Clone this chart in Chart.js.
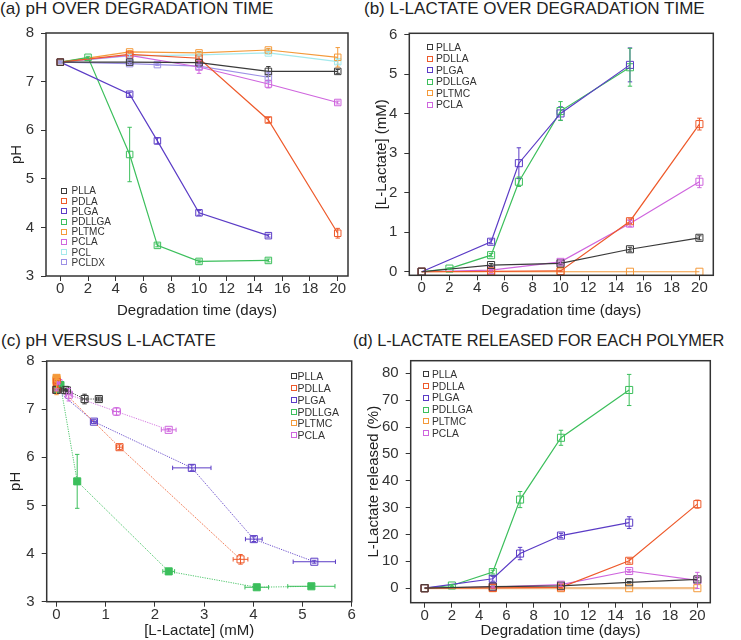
<!DOCTYPE html>
<html>
<head>
<meta charset="utf-8">
<script src="https://cdn.jsdelivr.net/npm/chart.js@4.4.0/dist/chart.umd.min.js"></script>
<style>
  body { margin: 0; background: #fff; width: 741px; height: 640px; position: relative; overflow: hidden;
         font-family: 'Liberation Sans', Arial, sans-serif; color: #222; }
  canvas { position: absolute; }
  .ptitle { position: absolute; font-size: 17px; line-height: 19px; white-space: nowrap; }
  .legend { position: absolute; color: #333; white-space: nowrap; }
  .legend .row { display: flex; align-items: center; }
  .legend .box { display: inline-block; box-sizing: border-box; border: 1px solid; }
</style>
</head>
<body>
<div class="ptitle" style="left:0px;top:-1px">(a) pH OVER DEGRADATION TIME</div>
<div class="ptitle" style="left:364px;top:-1px">(b) L-LACTATE OVER DEGRADATION TIME</div>
<div class="ptitle" style="left:1px;top:331px">(c) pH VERSUS L-LACTATE</div>
<div class="ptitle" style="left:353px;top:331px;font-size:16.4px;letter-spacing:-0.1px">(d) L-LACTATE RELEASED FOR EACH POLYMER</div>

<canvas id="chart-a" width="370" height="320" style="left:0;top:0"></canvas>
<canvas id="chart-b" width="371" height="320" style="left:370px;top:0"></canvas>
<canvas id="chart-c" width="362" height="320" style="left:0;top:320px"></canvas>
<canvas id="chart-d" width="379" height="320" style="left:362px;top:320px"></canvas>

<div id="legend-a" class="legend"></div>
<div id="legend-b" class="legend"></div>
<div id="legend-c" class="legend"></div>
<div id="legend-d" class="legend"></div>

<script>
// ---- sampling days ----
const daysStd = [0, 5, 10, 15, 20];
const daysPLGA = [0, 5, 7, 10, 15];
const daysPDLLGA = [0, 2, 5, 7, 10, 15];
const daysPCLDX = [0, 5, 7, 10, 15];

// ---- (a) pH over degradation time ----
const phPLLA = [7.40, 7.40, 7.39, 7.21, 7.21];
const phErrPLLA = [0.02, 0.02, 0.03, 0.10, 0.04];
const phPDLA = [7.40, 7.56, 7.48, 6.21, 3.88];
const phErrPDLA = [0.02, 0.03, 0.05, 0.05, 0.10];
const phPLGA = [7.40, 6.74, 5.78, 4.30, 3.83];
const phErrPLGA = [0.02, 0.04, 0.06, 0.05, 0.03];
const phPDLLGA = [7.40, 7.50, 5.50, 3.63, 3.30, 3.32];
const phErrPDLLGA = [0.02, 0.02, 0.56, 0.03, 0.03, 0.03];
const phPLTMC = [7.40, 7.61, 7.59, 7.65, 7.50];
const phErrPLTMC = [0.02, 0.03, 0.03, 0.03, 0.20];
const phPCLA = [7.40, 7.54, 7.30, 6.95, 6.57];
const phErrPCLA = [0.02, 0.02, 0.13, 0.08, 0.03];
const phPCL = [7.40, 7.53, 7.55, 7.59, 7.41];
const phErrPCL = [0.02, 0.03, 0.02, 0.03, 0.05];
const phPCLDX = [7.40, 7.37, 7.35, 7.32, 7.09];
const phErrPCLDX = [0.02, 0.02, 0.02, 0.03, 0.10];

// ---- (b) L-lactate (mM) ----
const lacPLLA = [0, 0.17, 0.21, 0.57, 0.86];
const lacErrPLLA = [0, 0.04, 0.03, 0.05, 0.05];
const lacPDLLA = [0, 0.01, 0.02, 1.28, 3.74];
const lacErrPDLLA = [0, 0.02, 0.02, 0.06, 0.15];
const lacPLGA = [0, 0.76, 2.75, 4.01, 5.24];
const lacErrPLGA = [0, 0.05, 0.39, 0.17, 0.43];
const lacPDLLGA = [0, 0.08, 0.42, 2.28, 4.07, 5.18];
const lacErrPDLLGA = [0, 0.02, 0.04, 0.12, 0.24, 0.48];
const lacPLTMC = [0, 0, 0, 0, 0];
const lacErrPLTMC = [0, 0, 0, 0, 0];
const lacPCLA = [0, 0.04, 0.25, 1.22, 2.28];
const lacErrPCLA = [0, 0.02, 0.05, 0.08, 0.15];

// ---- (d) L-lactate released (%) ----
const relPLLA = [0, 0.6, 0.9, 2.2, 3.3];
const relErrPLLA = [0, 0.2, 0.2, 0.3, 0.6];
const relPDLLA = [0, 0.1, 0.3, 10.2, 31.3];
const relErrPDLLA = [0, 0.2, 0.3, 0.8, 1.5];
const relPLGA = [0, 3.5, 12.9, 19.6, 24.4];
const relErrPLGA = [0, 0.9, 2.3, 0.8, 2.2];
const relPDLLGA = [0, 1.0, 6.0, 33.0, 56.0, 73.8];
const relErrPDLLGA = [0, 0.4, 0.7, 3.0, 2.8, 5.8];
const relPLTMC = [0, 0, 0, 0, 0];
const relPCLA = [0, 0.4, 1.3, 6.4, 2.9];
const relErrPCLA = [0, 0.3, 0.6, 0.6, 3.0];

// ---- ticks ----
const dayTicks = [0, 2, 4, 6, 8, 10, 12, 14, 16, 18, 20];
const phTicks = [3, 4, 5, 6, 7, 8];
const lacTicks = [0, 1, 2, 3, 4, 5, 6];
const relTicks = [0, 10, 20, 30, 40, 50, 60, 70, 80];

const FONT = "'Liberation Sans', Arial, sans-serif";
const COL = {
  PLLA: '#3a3a3a', PDLA: '#ee5a2b', PLGA: '#5b3cc6', PDLLGA: '#3cbf5c',
  PLTMC: '#f49a3a', PCLA: '#cf66de', PCL: '#a4e9ec', PCLDX: '#9d90e6'
};

const zip = (xs, ys) => xs.map((x, i) => ({ x, y: ys[i] }));

function series(label, color, xs, ys, errY, extra = {}) {
  return Object.assign({
    label, data: zip(xs, ys), errY, borderColor: color, backgroundColor: 'rgba(255,255,255,0)',
    showLine: true, borderWidth: 1.2, pointStyle: 'rect', pointRadius: 5, pointBorderWidth: 1,
    pointHoverRadius: 5,
  }, extra);
}

// error bars drawn through the chart scales
const errorBars = {
  id: 'errorBars',
  afterDatasetsDraw(chart) {
    const { ctx, scales: { x, y } } = chart;
    chart.data.datasets.forEach(ds => {
      ctx.save();
      ctx.strokeStyle = ds.borderColor;
      ctx.lineWidth = 1;
      ds.data.forEach((p, j) => {
        const px = x.getPixelForValue(p.x), py = y.getPixelForValue(p.y);
        const ey = ds.errY ? ds.errY[j] : 0;
        const ex = ds.errX ? ds.errX[j] : 0;
        const cap = 2.2;
        ctx.beginPath();
        if (ey) {
          const y1 = y.getPixelForValue(p.y - ey), y2 = y.getPixelForValue(p.y + ey);
          ctx.moveTo(px, y1); ctx.lineTo(px, y2);
          ctx.moveTo(px - cap, y1); ctx.lineTo(px + cap, y1);
          ctx.moveTo(px - cap, y2); ctx.lineTo(px + cap, y2);
        }
        if (ex) {
          const x1 = x.getPixelForValue(p.x - ex), x2 = x.getPixelForValue(p.x + ex);
          ctx.moveTo(x1, py); ctx.lineTo(x2, py);
          ctx.moveTo(x1, py - cap); ctx.lineTo(x1, py + cap);
          ctx.moveTo(x2, py - cap); ctx.lineTo(x2, py + cap);
        }
        ctx.stroke();
      });
      ctx.restore();
    });
  }
};

// box round the plot area
const frame = {
  id: 'frame',
  afterDraw(chart) {
    const { ctx, chartArea: a } = chart;
    ctx.save();
    ctx.strokeStyle = '#333';
    ctx.lineWidth = 1.5;
    ctx.strokeRect(a.left, a.top, a.right - a.left, a.bottom - a.top);
    ctx.restore();
  }
};

function axis(min, max, ticks, title, size, isX, titlePad, tickPad) {
  return {
    type: 'linear', min, max,
    afterBuildTicks: s => { s.ticks = ticks.map(v => ({ value: v })); },
    afterFit: s => { if (isX) s.height = size; else s.width = size; },
    ticks: { color: '#333', font: { size: 15, family: FONT }, padding: tickPad, maxRotation: 0, autoSkip: false },
    grid: { drawOnChartArea: false, tickLength: 5, color: '#333' },
    border: { display: false },
    title: { display: true, text: title, color: '#222', font: { size: 15, family: FONT },
             padding: isX ? { top: 0, bottom: titlePad } : { top: titlePad, bottom: 0 } },
  };
}

function makeChart(id, datasets, o) {
  return new Chart(document.getElementById(id), {
    type: 'scatter',
    data: { datasets },
    plugins: [errorBars, frame],
    options: {
      responsive: false,
      animation: false,
      layout: { padding: o.pad },
      plugins: { legend: { display: false }, tooltip: { enabled: false } },
      scales: {
        x: axis(o.xMin, o.xMax, o.xTicks, o.xTitle, o.xH, true, 0, -1),
        y: axis(o.yMin, o.yMax, o.yTicks, o.yTitle, o.yW, false, o.yTitlePad, 7),
      },
    },
  });
}

function makeLegend(id, items, o) {
  const el = document.getElementById(id);
  el.style.left = o.left + 'px';
  el.style.top = (o.top - o.rowH / 2) + 'px';
  el.style.fontSize = o.font + 'px';
  items.forEach(([label, color]) => {
    const row = document.createElement('div');
    row.className = 'row';
    row.style.height = o.rowH + 'px';
    const box = document.createElement('span');
    box.className = 'box';
    box.style.width = o.box + 'px';
    box.style.height = o.box + 'px';
    box.style.borderColor = color;
    box.style.marginRight = o.gap + 'px';
    const txt = document.createElement('span');
    txt.textContent = label;
    row.appendChild(box); row.appendChild(txt);
    el.appendChild(row);
  });
}

// ---- (a) ----
const dsA = [
  series('PLLA', COL.PLLA, daysStd, phPLLA, phErrPLLA),
  series('PDLA', COL.PDLA, daysStd, phPDLA, phErrPDLA),
  series('PLGA', COL.PLGA, daysPLGA, phPLGA, phErrPLGA),
  series('PDLLGA', COL.PDLLGA, daysPDLLGA, phPDLLGA, phErrPDLLGA),
  series('PLTMC', COL.PLTMC, daysStd, phPLTMC, phErrPLTMC),
  series('PCLA', COL.PCLA, daysStd, phPCLA, phErrPCLA),
  series('PCL', COL.PCL, daysStd, phPCL, phErrPCL),
  series('PCLDX', COL.PCLDX, daysPCLDX, phPCLDX, phErrPCLDX),
];
dsA.forEach(d => { d.pointRadius = 4.6; d.pointHoverRadius = 4.6; });
makeChart('chart-a', dsA, {
  xMin: -1.03, xMax: 20.74, xTicks: dayTicks, xTitle: 'Degradation time (days)', xH: 44,
  yMin: 3, yMax: 8, yTicks: phTicks, yTitle: 'pH', yW: 46, yTitlePad: 8,
  pad: { top: 33, right: 22, bottom: 0, left: 0 },
});

// ---- (b) ----
const dsB = [
  series('PLLA', COL.PLLA, daysStd, lacPLLA, lacErrPLLA),
  series('PDLLA', COL.PDLA, daysStd, lacPDLLA, lacErrPDLLA),
  series('PLGA', COL.PLGA, daysPLGA, lacPLGA, lacErrPLGA),
  series('PDLLGA', COL.PDLLGA, daysPDLLGA, lacPDLLGA, lacErrPDLLGA),
  series('PLTMC', COL.PLTMC, daysStd, lacPLTMC, lacErrPLTMC),
  series('PCLA', COL.PCLA, daysStd, lacPCLA, lacErrPCLA),
];
makeChart('chart-b', dsB, {
  xMin: -0.89, xMax: 21.0, xTicks: dayTicks, xTitle: 'Degradation time (days)', xH: 44.7,
  yMin: -0.09, yMax: 6.04, yTicks: lacTicks, yTitle: '[L-Lactate] (mM)', yW: 39.3, yTitlePad: 3,
  pad: { top: 33.3, right: 27.7, bottom: 0, left: 0 },
});

// ---- (c) pH versus L-lactate, paired from (a) and (b) ----
function pair(label, color, lac, lacErr, ph, phErr, filled) {
  return {
    label, data: zip(lac, ph), errX: lacErr, errY: phErr, borderColor: color,
    backgroundColor: filled ? color : 'rgba(255,255,255,0)',
    showLine: true, borderWidth: 0.9, borderDash: [1.2, 1.2], pointStyle: 'rect',
    pointRadius: 5, pointHoverRadius: 5, pointBorderWidth: 1, pointBorderDash: [],
  };
}
const dsC = [
  pair('PLLA', COL.PLLA, lacPLLA, lacErrPLLA, phPLLA, phErrPLLA),
  pair('PDLLA', COL.PDLA, lacPDLLA, lacErrPDLLA, phPDLA, phErrPDLA),
  pair('PLGA', COL.PLGA, lacPLGA, lacErrPLGA, phPLGA, phErrPLGA),
  pair('PDLLGA', COL.PDLLGA, lacPDLLGA, lacErrPDLLGA, phPDLLGA, phErrPDLLGA, true),
  pair('PLTMC', COL.PLTMC, lacPLTMC, lacErrPLTMC, phPLTMC, phErrPLTMC, true),
  pair('PCLA', COL.PCLA, lacPCLA, lacErrPCLA, phPCLA, phErrPCLA),
];
makeChart('chart-c', dsC, {
  xMin: -0.2, xMax: 6, xTicks: lacTicks, xTitle: '[L-Lactate] (mM)', xH: 38.3,
  yMin: 3, yMax: 8, yTicks: phTicks, yTitle: 'pH', yW: 46.7, yTitlePad: 7,
  pad: { top: 41, right: 10.3, bottom: 0, left: 0 },
});

// ---- (d) ----
const dsD = [
  series('PLLA', COL.PLLA, daysStd, relPLLA, relErrPLLA),
  series('PDLLA', COL.PDLA, daysStd, relPDLLA, relErrPDLLA),
  series('PLGA', COL.PLGA, daysPLGA, relPLGA, relErrPLGA),
  series('PDLLGA', COL.PDLLGA, daysPDLLGA, relPDLLGA, relErrPDLLGA),
  series('PLTMC', COL.PLTMC, daysStd, relPLTMC, null, { borderColor: '#f2bf8a', borderWidth: 2.2, pointBorderColor: COL.PLTMC }),
  series('PCLA', COL.PCLA, daysStd, relPCLA, relErrPCLA),
];
makeChart('chart-d', dsD, {
  xMin: -1.02, xMax: 20.95, xTicks: dayTicks, xTitle: 'Degradation time (days)', xH: 37.3,
  yMin: -5.4, yMax: 84.7, yTicks: relTicks, yTitle: 'L-Lactate released (%)', yW: 48.7, yTitlePad: 2.5,
  pad: { top: 40.7, right: 30.7, bottom: 0, left: 0 },
});

// ---- legends ----
const legendA = [['PLLA', COL.PLLA], ['PDLA', COL.PDLA], ['PLGA', COL.PLGA], ['PDLLGA', COL.PDLLGA],
                 ['PLTMC', COL.PLTMC], ['PCLA', COL.PCLA], ['PCL', COL.PCL], ['PCLDX', COL.PCLDX]];
const legendBD = [['PLLA', COL.PLLA], ['PDLLA', COL.PDLA], ['PLGA', COL.PLGA], ['PDLLGA', COL.PDLLGA],
                  ['PLTMC', COL.PLTMC], ['PCLA', COL.PCLA]];
makeLegend('legend-a', legendA, { left: 61, top: 191, rowH: 10.2, font: 10, box: 6, gap: 4.5 });
makeLegend('legend-b', legendBD, { left: 426.5, top: 47.3, rowH: 11.5, font: 10.3, box: 6, gap: 3.5 });
makeLegend('legend-c', legendBD, { left: 290.5, top: 376, rowH: 11.85, font: 10.5, box: 6, gap: 1 });
makeLegend('legend-d', legendBD, { left: 422.5, top: 374.3, rowH: 11.8, font: 10.3, box: 6, gap: 3.5 });
</script>
</body>
</html>
